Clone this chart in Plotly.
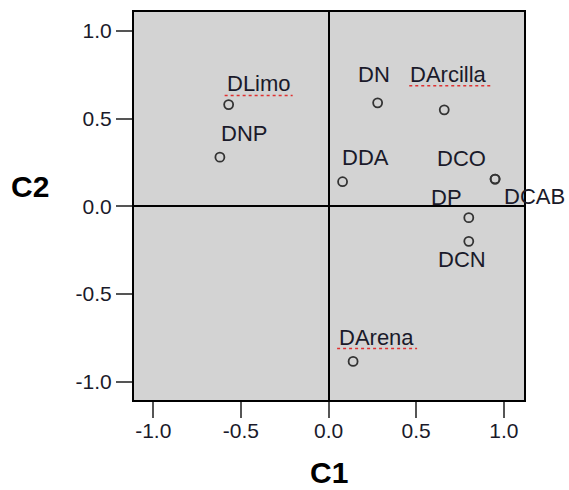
import plotly.graph_objects as go

# ---- data ----
labels = ["DLimo", "DNP", "DN", "DArcilla", "DDA", "DCO", "DCAB", "DP", "DCN", "DArena"]
c1 = [-0.57, -0.62, 0.28, 0.66, 0.08, 0.95, 0.95, 0.80, 0.80, 0.14]
c2 = [0.58, 0.28, 0.59, 0.55, 0.14, 0.155, 0.155, -0.065, -0.20, -0.885]
tick_vals = [-1.0, -0.5, 0.0, 0.5, 1.0]
tick_text = ["-1.0", "-0.5", "0.0", "0.5", "1.0"]

# ---- label styling (pixel offsets: left edge, vertical middle; +y is up) ----
label_offsets = {
    "DLimo": (-4, 21), "DNP": (-1, 24), "DN": (-22, 28), "DArcilla": (-36, 35),
    "DDA": (-3, 24), "DCO": (-60, 21), "DCAB": (7, -17), "DP": (-40, 20),
    "DCN": (-33, -18), "DArena": (-16, 24),
}
# spell-check squiggles: (x0, x1, y) pixel offsets from the point
squiggles = {"DLimo": (-4, 64, 9), "DArcilla": (-35, 47, 24), "DArena": (-16, 64, 13)}

FONT = "Liberation Sans, Arial, sans-serif"

fig = go.Figure()
fig.add_trace(go.Scatter(
    x=c1, y=c2, mode="markers",
    marker=dict(symbol="circle-open", size=9, color="#333333", line=dict(width=1.8)),
    hoverinfo="text", text=labels, showlegend=False,
))

for lab, x, y in zip(labels, c1, c2):
    dx, dy = label_offsets[lab]
    fig.add_annotation(x=x, y=y, text=lab, showarrow=False, xanchor="left", yanchor="middle",
                       xshift=dx, yshift=dy, font=dict(family=FONT, size=22, color="#1a1a2a"))
    if lab in squiggles:
        x0, x1, sy = squiggles[lab]
        fig.add_shape(type="line", xref="x", yref="y", xsizemode="pixel", ysizemode="pixel",
                      xanchor=x, yanchor=y, x0=x0, x1=x1, y0=sy, y1=sy,
                      line=dict(color="#e03030", width=1.5, dash="dot"))

axis_common = dict(
    tickvals=tick_vals, ticktext=tick_text, ticks="outside", ticklen=16, tickwidth=2,
    tickcolor="#555555", showgrid=False, zeroline=True, zerolinecolor="black",
    zerolinewidth=1.5, showline=True, linecolor="black", linewidth=2, mirror=True,
    tickfont=dict(family=FONT, size=21, color="#1a1a2a"), range=[-1.11, 1.115],
    automargin=False,
)
fig.update_xaxes(**{**axis_common, "ticklabelstandoff": -5})
fig.update_yaxes(**{**axis_common, "range": [-1.105, 1.108]})

# axis titles (C1 below, C2 horizontal on the left)
fig.add_annotation(xref="paper", yref="paper", x=0.5, y=-0.186, text="<b>C1</b>", showarrow=False,
                   xanchor="center", yanchor="middle",
                   font=dict(family=FONT, size=30, color="black"))
fig.add_annotation(xref="paper", yref="paper", x=-0.267, y=0.549, text="<b>C2</b>", showarrow=False,
                   xanchor="center", yanchor="middle",
                   font=dict(family=FONT, size=30, color="black"))

fig.update_layout(
    width=569, height=490, margin=dict(l=134, r=45, t=12, b=90),
    plot_bgcolor="#d3d3d3", paper_bgcolor="white",
)

fig.write_html("out.html")
